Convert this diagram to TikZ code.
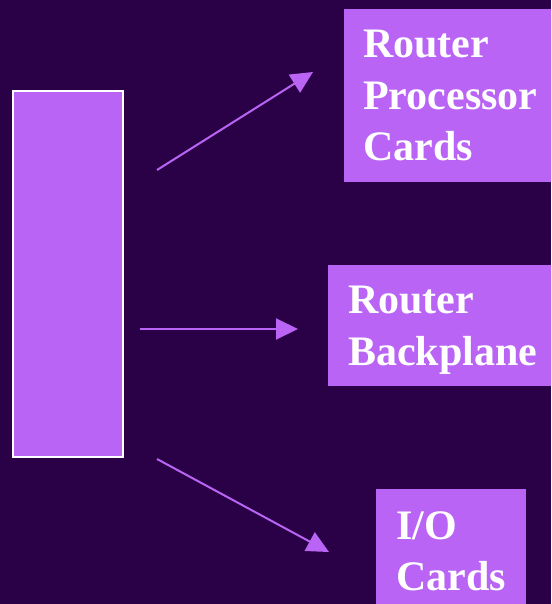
\documentclass[tikz,border=0pt]{standalone}
\usepackage{fontspec}
\setmainfont{Liberation Serif}
\usetikzlibrary{arrows.meta,positioning}
\definecolor{slidebg}{HTML}{2A0046}
\definecolor{cardfill}{HTML}{B964F5}

\begin{document}
\begin{tikzpicture}[x=1pt,y=-1pt]
\tikzstyle{part} = [rectangle, fill=cardfill, text=white, align=left, anchor=north west, inner xsep=19pt, text depth=0pt, font=\fontsize{42}{51.5}\selectfont\bfseries]
\tikzstyle{arrow} = [line width=2pt, draw=cardfill, -{Triangle[length=22pt,width=21pt]}]

\fill[slidebg] (0,0) rectangle (551,604);
\useasboundingbox (0,0) rectangle (551,604);
\clip (0,0) rectangle (551,604);

\node (router) [draw=white, line width=2pt, fill=cardfill, minimum width=110pt, minimum height=366pt, anchor=north west, inner sep=0pt] at (12,90) {};
\node (rpc) [part, minimum height=173pt] at (344,9) {Router\\Processor\\Cards};
\node (bp) [part, inner xsep=20pt, minimum height=121pt] at (328,265) {Router\\Backplane};
\node (io) [part, inner xsep=20pt, minimum height=124pt] at (376,489) {I/O\\Cards};

\coordinate (rpcfrom) at (157,170);
\coordinate (rpcto) at (313,72);
\coordinate (bpfrom) at (140,329);
\coordinate (bpto) at (298,329);
\coordinate (iofrom) at (157,459);
\coordinate (ioto) at (329,552);

\draw [arrow] (rpcfrom) -- (rpcto);
\draw [arrow] (bpfrom) -- (bpto);
\draw [arrow] (iofrom) -- (ioto);
\end{tikzpicture}
\end{document}
